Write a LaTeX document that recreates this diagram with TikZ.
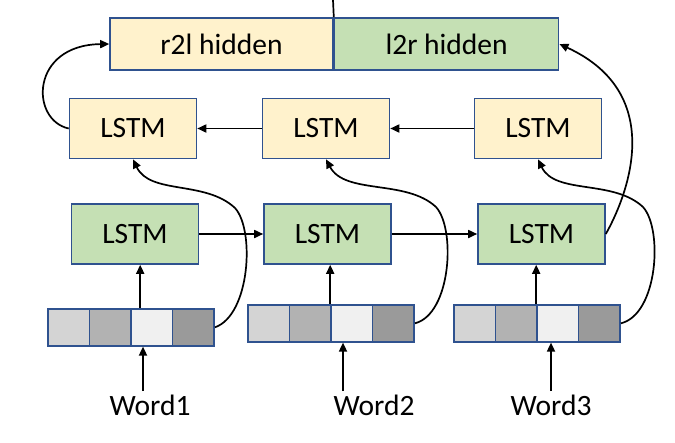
\documentclass[tikz,border=0pt]{standalone}
\usepackage{fontspec}
\setmainfont{Carlito}
\usetikzlibrary{arrows.meta,calc}
\definecolor{boxblue}{HTML}{2F528F}
\definecolor{hidyellow}{HTML}{FFF2CC}
\definecolor{hidgreen}{HTML}{C5E0B4}
\definecolor{cellA}{HTML}{D4D4D4}
\definecolor{cellB}{HTML}{B2B2B2}
\definecolor{cellC}{HTML}{F0F0F0}
\definecolor{cellD}{HTML}{9A9A9A}
\begin{document}
\begin{tikzpicture}[x=1pt,y=-1pt,
    bigfont/.style={font=\fontsize{29.5}{34}\selectfont},
    lstmbox/.style={draw=boxblue, line width=1.6pt, inner sep=0pt,
        minimum width=127pt, minimum height=60pt, bigfont},
    hidbox/.style={lstmbox, minimum height=52pt},
    cell/.style={draw=boxblue, line width=1.6pt, inner sep=0pt,
        minimum width=41.6pt, minimum height=37pt},
    arr/.style={-{Triangle[length=9pt,width=8pt]}, line width=1.7pt},
    link/.style={line width=1.7pt}]
    \useasboundingbox (0,0) rectangle (675,442);
    % the concatenated hidden state
    \node[hidbox, fill=hidyellow, minimum width=223pt] (r2l) at (221.5,44) {r2l hidden};
    \node[hidbox, fill=hidgreen, minimum width=224pt, anchor=west] (l2r) at (r2l.east) {l2r hidden};
    \coordinate (out) at (333,0);
    \draw[link] (r2l.north east) -- (out);
    % right-to-left LSTMs
    \node[lstmbox, fill=hidyellow] (y1) at (133,128.5) {LSTM};
    \node[lstmbox, fill=hidyellow] (y2) at (326,128.5) {LSTM};
    \node[lstmbox, fill=hidyellow] (y3) at (538,128.5) {LSTM};
    % left-to-right LSTMs
    \node[lstmbox, fill=hidgreen] (g1) at (135,234) {LSTM};
    \node[lstmbox, fill=hidgreen] (g2) at (327.5,234) {LSTM};
    \node[lstmbox, fill=hidgreen] (g3) at (541.5,234) {LSTM};
    % word vectors, four cells each
    \foreach \v/\x/\y in {1/47/308, 2/247/304, 3/453/304} {
        \foreach \c/\col [count=\k from 0] in {a/cellA, b/cellB, c/cellC, d/cellD}
            \node[cell, fill=\col, anchor=north west] (v\v\c) at (\x+41.6*\k,\y) {};
    }
    % the words
    \node[bigfont] (w1) at (150,405) {Word1};
    \node[bigfont] (w2) at (374,405) {Word2};
    \node[bigfont] (w3) at (551,405) {Word3};
    \draw[arr] ([xshift=-7]w1.north) -- ([xshift=-7]w1.north |- v1a.south);
    \draw[arr] ([xshift=-31]w2.north) -- ([xshift=-31]w2.north |- v2a.south);
    \draw[arr] (w3.north) -- (w3.north |- v3a.south);
    % vectors into the forward LSTMs
    \draw[arr] ([xshift=10]v1c.north west) -- ([xshift=10]v1c.north west |- g1.south);
    \draw[arr] (v2c.north west) -- (v2c.north west |- g2.south);
    \draw[arr] (v3c.north west) -- (v3c.north west |- g3.south);
    % recurrences
    \draw[arr] (g1.east) -- (g2.west);
    \draw[arr] (g2.east) -- (g3.west);
    \draw[arr] (y3.west) -- (y2.east);
    \draw[arr] (y2.west) -- (y1.east);
    % vectors into the backward LSTMs
    \draw[arr] (v1d.east) .. controls (250,315) and (255,230) .. (235,208)
        .. controls (205,180) and (150,195) .. (y1.south);
    \draw[arr] (v2d.east) .. controls (451,314) and (456,229) .. (436,207)
        .. controls (406,179) and (345,195) .. (y2.south);
    \draw[arr] (v3d.east) .. controls (658,314) and (663,229) .. (643,207)
        .. controls (613,179) and (555,195) .. (y3.south);
    % last states into the hidden state
    \draw[arr] (g3.east) .. controls (625,200) and (670,95) .. (l2r.east);
    \draw[arr] (y1.west) .. controls (30,120) and (30,45) .. (r2l.west);
\end{tikzpicture}
\end{document}
